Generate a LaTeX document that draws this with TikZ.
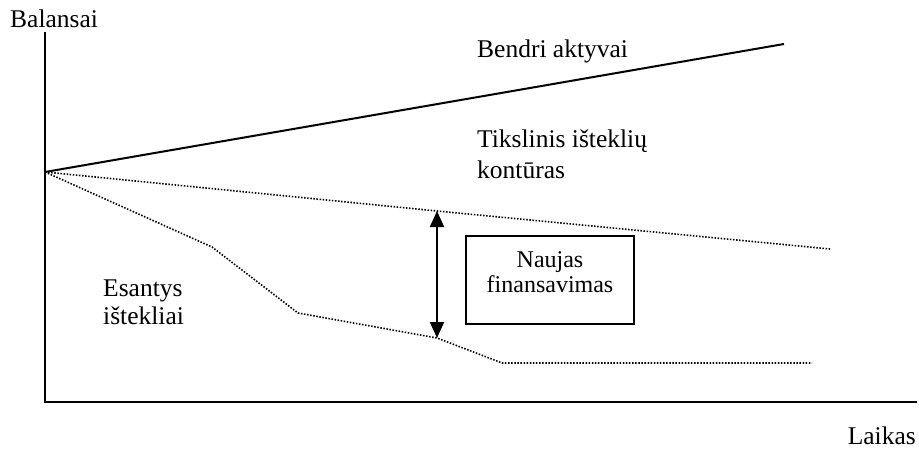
\documentclass[tikz,border=0pt]{standalone}
\usepackage{fontspec}
\setmainfont{Liberation Serif}
\usetikzlibrary{positioning}
\usetikzlibrary{arrows.meta}

\begin{document}
\begin{tikzpicture}[x=1pt, y=-1pt, every node/.style={font=\fontsize{25.5}{31}\selectfont, inner sep=0pt},
    axis/.style={line width=1.8pt},
    trend/.style={line width=2pt},
    contour/.style={line width=1.6pt, dash pattern=on 1.5pt off 1.6pt}]
				\useasboundingbox (0,0) rectangle (919,450);
				% axes
				\coordinate (top) at (45,32);
				\coordinate (o) at (45,402);
				\coordinate (right) at (917,402);
				\draw[axis] (top) -- (o) -- (right);
				\node[anchor=base west] (balansai) at (10,27) {Balansai};
				\node[anchor=base east] (laikas) at (916,444) {Laikas};
				% lines from the start point
				\coordinate (start) at (45,172);
				\coordinate (aktyvai) at (784,44);
				\draw[trend] (start) -- (aktyvai);
				\coordinate (targettop) at (437,211);
				\coordinate (targetend) at (830,249);
				\draw[contour] (start) -- (targettop) -- (targetend);
				\coordinate (e1) at (212,247);
				\coordinate (e2) at (298,313);
				\coordinate (exbottom) at (437,338);
				\coordinate (e4) at (502,363);
				\coordinate (e5) at (812,363);
				\draw[contour] (start) -- (e1) -- (e2) -- (exbottom) -- (e4) -- (e5);
				\draw[line width=1.9pt, {Triangle[length=16pt,width=14pt]}-{Triangle[length=16pt,width=14pt]}] (targettop) -- (exbottom);
				% labels
				\node[anchor=base west] (bendri) at (477,57) {Bendri aktyvai};
				\node[anchor=west, align=left] (tikslinis) at (477,154) {Tikslinis išteklių\\kontūras};
				\node[anchor=west, align=left, font=\fontsize{25.5}{28}\selectfont] (esantys) at (103,302) {Esantys\\ištekliai};
				\node[draw, line width=1.6pt, minimum width=168pt, minimum height=88pt,
				  label={[align=center, yshift=8pt, font=\fontsize{24}{25}\selectfont]center:{Naujas\\finansavimas}}] (naujas) at (550,280) {};
		    \end{tikzpicture}
\end{document}
